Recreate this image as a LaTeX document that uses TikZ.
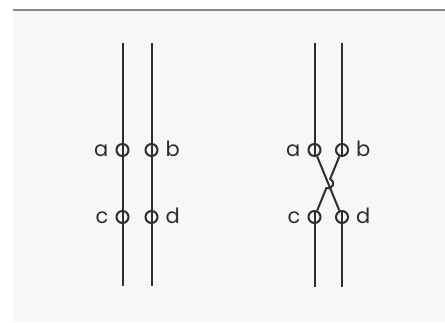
\documentclass[tikz,border=0pt]{standalone}
\usepackage{fontspec}
\newfontfamily\labelfont{Poppins}
\usetikzlibrary{calc}
\definecolor{wirecol}{HTML}{2E2E2E}
\definecolor{panel}{HTML}{F6F7F7}
\definecolor{rulecol}{HTML}{8A8A8A}

\begin{document}
\begin{tikzpicture}[x=1pt,y=1pt,label distance=6pt,
    port/.style={circle,draw=wirecol,line width=2pt,minimum size=12pt,inner sep=0pt},
    wire/.style={line width=2pt,draw=wirecol},
    every label/.style={font=\labelfont\fontsize{21}{21}\selectfont,text=wirecol,text height=13.5pt,text depth=0pt,inner sep=1pt}]
    \useasboundingbox (0,0) rectangle (445,322);
    \fill[panel] (13,0) rectangle (445,312);
    \draw[rulecol,line width=1.5pt] (13,312) -- (445,312);

    % straight pair
    \coordinate (atop) at (122.5,279);
    \coordinate (btop) at (151.5,279);
    \coordinate (cbot) at (122.5,36);
    \coordinate (dbot) at (151.5,36);
    \node[port,label=left:a] (a) at (122.5,172) {};
    \node[port,label=right:b] (b) at (151.5,172) {};
    \node[port,label=left:c] (c) at (122.5,105) {};
    \node[port,label=right:d] (d) at (151.5,105) {};
    \draw[wire] (atop) -- (cbot);
    \draw[wire] (btop) -- (dbot);

    % crossed pair
    \coordinate (ratop) at (314.5,279);
    \coordinate (rbtop) at (342,279);
    \coordinate (rcbot) at (314.5,35.5);
    \coordinate (rdbot) at (342,35.5);
    \node[port,label=left:a] (ra) at (314.5,172) {};
    \node[port,label=right:b] (rb) at (342,172) {};
    \node[port,label=left:c] (rc) at (314.5,105) {};
    \node[port,label=right:d] (rd) at (342,105) {};
    \coordinate (rx) at ($(ra)!0.5!(rd)$);
    \draw[wire] (ratop) -- (ra.south);
    \draw[wire] (rbtop) -- (rb.south);
    \draw[wire] (rc.north) -- (rcbot);
    \draw[wire] (rd.north) -- (rdbot);
    \draw[wire] (ra) -- (rd);
    \draw[wire] (rb) -- ($(rx)!5pt!(rb)$) arc[start angle=67.7,end angle=-112.3,radius=5pt] -- (rc);
\end{tikzpicture}
\end{document}
